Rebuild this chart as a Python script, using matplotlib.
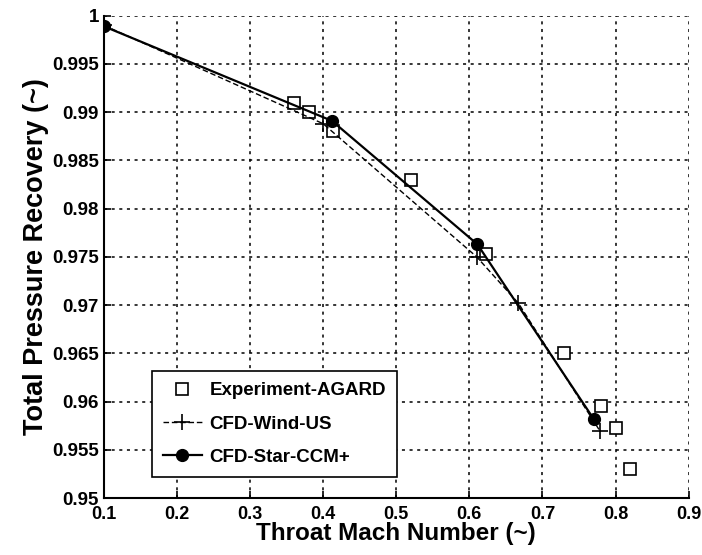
import matplotlib
matplotlib.use("Agg")
import matplotlib.pyplot as plt

# Data
exp_x = [0.36, 0.38, 0.414, 0.52, 0.623, 0.73, 0.78, 0.80, 0.82]
exp_y = [0.991, 0.990, 0.988, 0.983, 0.9753, 0.965, 0.9595, 0.9573, 0.953]

wind_x = [0.1, 0.40, 0.61, 0.667, 0.779]
wind_y = [0.999, 0.9888, 0.975, 0.9702, 0.9569]

star_x = [0.1, 0.412, 0.611, 0.77]
star_y = [0.9989, 0.9891, 0.9763, 0.9582]

xticks = [0.1, 0.2, 0.3, 0.4, 0.5, 0.6, 0.7, 0.8, 0.9]
xticklabels = ["0.1", "0.2", "0.3", "0.4", "0.5", "0.6", "0.7", "0.8", "0.9"]
yticks = [0.95, 0.955, 0.96, 0.965, 0.97, 0.975, 0.98, 0.985, 0.99, 0.995, 1.0]
yticklabels = ["0.95", "0.955", "0.96", "0.965", "0.97", "0.975", "0.98", "0.985", "0.99", "0.995", "1"]

plt.rcParams['font.family'] = ['Liberation Sans', 'DejaVu Sans']

fig = plt.figure(figsize=(7.02, 5.55), dpi=100)
ax = fig.add_axes([0.148, 0.1027, 0.833, 0.869])

ax.plot(exp_x, exp_y, linestyle='none', marker='s', markersize=8,
        markerfacecolor='white', markeredgecolor='black', markeredgewidth=1.2,
        label='Experiment-AGARD', zorder=3)
ax.plot(wind_x, wind_y, linestyle='--', dashes=(4, 2), color='black', linewidth=1.0,
        marker='+', markersize=11, markeredgewidth=1.2,
        label='CFD-Wind-US', zorder=4)
ax.plot(star_x, star_y, linestyle='-', color='black', linewidth=1.6,
        marker='o', markersize=8.5, markerfacecolor='black',
        label='CFD-Star-CCM+', zorder=5)

ax.set_xlim(0.1, 0.9)
ax.set_ylim(0.95, 1.0)
ax.set_xticks(xticks)
ax.set_xticklabels(xticklabels, fontsize=13, fontweight='bold')
ax.set_yticks(yticks)
ax.set_yticklabels(yticklabels, fontsize=13.5, fontweight='bold')
ax.tick_params(axis='both', direction='in', length=5, width=1.2, top=False, right=False)
ax.tick_params(axis='x', pad=6)
ax.tick_params(axis='y', pad=3.5)

ax.grid(True, linestyle=(0, (2, 3)), color='black', linewidth=1.1)
ax.spines['top'].set_visible(False)
ax.spines['right'].set_visible(False)
ax.spines['left'].set_linewidth(1.5)
ax.spines['bottom'].set_linewidth(1.5)

ax.set_xlabel('Throat Mach Number (~)', fontsize=17.5, fontweight='bold', labelpad=-1)
ax.set_ylabel('Total Pressure Recovery (~)', fontsize=19.5, fontweight='bold', labelpad=2)

leg = ax.legend(loc='lower left', bbox_to_anchor=(0.0815, 0.043), borderaxespad=0,
                prop={'weight': 'bold', 'size': 13.5}, frameon=True, fancybox=False,
                edgecolor='black', framealpha=1, handlelength=2.1, handletextpad=0.4,
                borderpad=0.6, labelspacing=0.87)
leg.get_frame().set_linewidth(1.2)

fig.savefig('out.png', dpi=100)
